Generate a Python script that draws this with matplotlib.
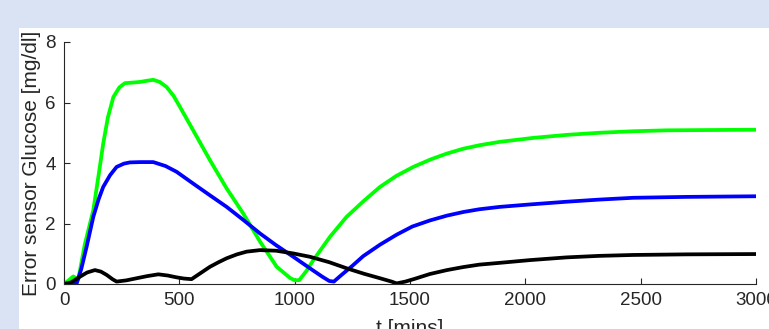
import matplotlib.pyplot as plt
from matplotlib.patches import Rectangle

plt.rcParams['font.family'] = ['Liberation Sans', 'DejaVu Sans']

# values (t in mins, error in mg/dl)
t_green = [0, 20, 40, 62, 90, 127, 150, 170, 190, 214, 240, 264, 300, 330, 360, 387, 415,
           445, 475, 503, 560, 633, 705, 777, 850, 922, 980, 1001, 1020, 1050, 1081, 1153,
           1225, 1300, 1370, 1440, 1514, 1590, 1659, 1730, 1803, 1890, 2034, 2180, 2323,
           2470, 2612, 2800, 3000]
e_green = [0, 0.12, 0.25, 0.15, 1.3, 2.44, 3.6, 4.64, 5.5, 6.18, 6.5, 6.64, 6.66, 6.68, 6.72,
           6.75, 6.68, 6.51, 6.22, 5.85, 5.08, 4.09, 3.16, 2.33, 1.40, 0.57, 0.2, 0.12, 0.13,
           0.42, 0.79, 1.56, 2.22, 2.75, 3.21, 3.57, 3.87, 4.12, 4.31, 4.47, 4.59, 4.70, 4.83,
           4.93, 5.0, 5.05, 5.08, 5.09, 5.1]

t_blue = [0, 30, 55, 75, 98, 127, 150, 170, 200, 228, 260, 286, 330, 387, 440, 488, 560, 633,
          705, 777, 850, 920, 994, 1066, 1120, 1150, 1170, 1200, 1250, 1297, 1370, 1442,
          1510, 1586, 1660, 1731, 1800, 1890, 2020, 2179, 2320, 2468, 2700, 3000]
e_blue = [0, 0, 0.02, 0.5, 1.23, 2.22, 2.8, 3.21, 3.6, 3.87, 3.98, 4.02, 4.03, 4.03, 3.9,
          3.71, 3.32, 2.93, 2.55, 2.12, 1.67, 1.28, 0.90, 0.52, 0.24, 0.1, 0.08, 0.28, 0.6,
          0.92, 1.3, 1.63, 1.9, 2.1, 2.26, 2.38, 2.47, 2.55, 2.63, 2.72, 2.79, 2.85, 2.88,
          2.90]

t_black = [0, 30, 69, 100, 134, 160, 185, 210, 228, 270, 315, 360, 409, 450, 488, 520, 553,
           590, 633, 670, 705, 750, 792, 850, 920, 994, 1066, 1150, 1225, 1300, 1370, 1420,
           1442, 1480, 1520, 1586, 1660, 1731, 1800, 1890, 2020, 2179, 2320, 2468, 2700, 3000]
e_black = [0, 0.05, 0.24, 0.38, 0.46, 0.41, 0.30, 0.16, 0.08, 0.12, 0.19, 0.26, 0.32, 0.28,
           0.22, 0.18, 0.16, 0.35, 0.57, 0.72, 0.85, 0.98, 1.07, 1.12, 1.10, 1.01, 0.90,
           0.72, 0.52, 0.34, 0.19, 0.08, 0.02, 0.08, 0.17, 0.33, 0.46, 0.56, 0.64, 0.70, 0.79,
           0.88, 0.93, 0.96, 0.98, 0.99]

x_ticks = [0, 500, 1000, 1500, 2000, 2500, 3000]
y_ticks = [0, 2, 4, 6, 8]

W, H = 769, 329
fig = plt.figure(figsize=(W / 100, H / 100), dpi=100, facecolor='#dae3f3')
# white figure region, the rest is the light-blue frame
fig.patches.append(Rectangle((19 / W, 0), 1, 1 - 28 / H, transform=fig.transFigure,
                             facecolor='white', edgecolor='none', zorder=-1))

ax = fig.add_axes([64 / W, 45 / H, (756 - 64) / W, (284 - 42) / H])
ax.set_facecolor('white')

ax.plot(t_green, e_green, color='#00ff00', lw=2.7)
ax.plot(t_blue, e_blue, color='#0000ff', lw=2.7)
ax.plot(t_black, e_black, color='black', lw=2.7)

ax.set_xlim(0, 3000)
ax.set_ylim(0, 8)
ax.set_xticks(x_ticks)
ax.set_yticks(y_ticks)
for s in ['top', 'right']:
    ax.spines[s].set_visible(False)
for s in ['left', 'bottom']:
    ax.spines[s].set_color('#262626')
    ax.spines[s].set_linewidth(0.8)
ax.tick_params(direction='in', length=4.5, width=0.8, color='#262626',
               labelcolor='#262626', labelsize=13.5, pad=6)

ax.set_xlabel('t [mins]', fontsize=15, color='#262626', labelpad=7)
ax.set_ylabel('Error sensor Glucose [mg/dl]', fontsize=15, color='#262626', labelpad=3)

fig.savefig('out.png', dpi=100, facecolor=fig.get_facecolor())
